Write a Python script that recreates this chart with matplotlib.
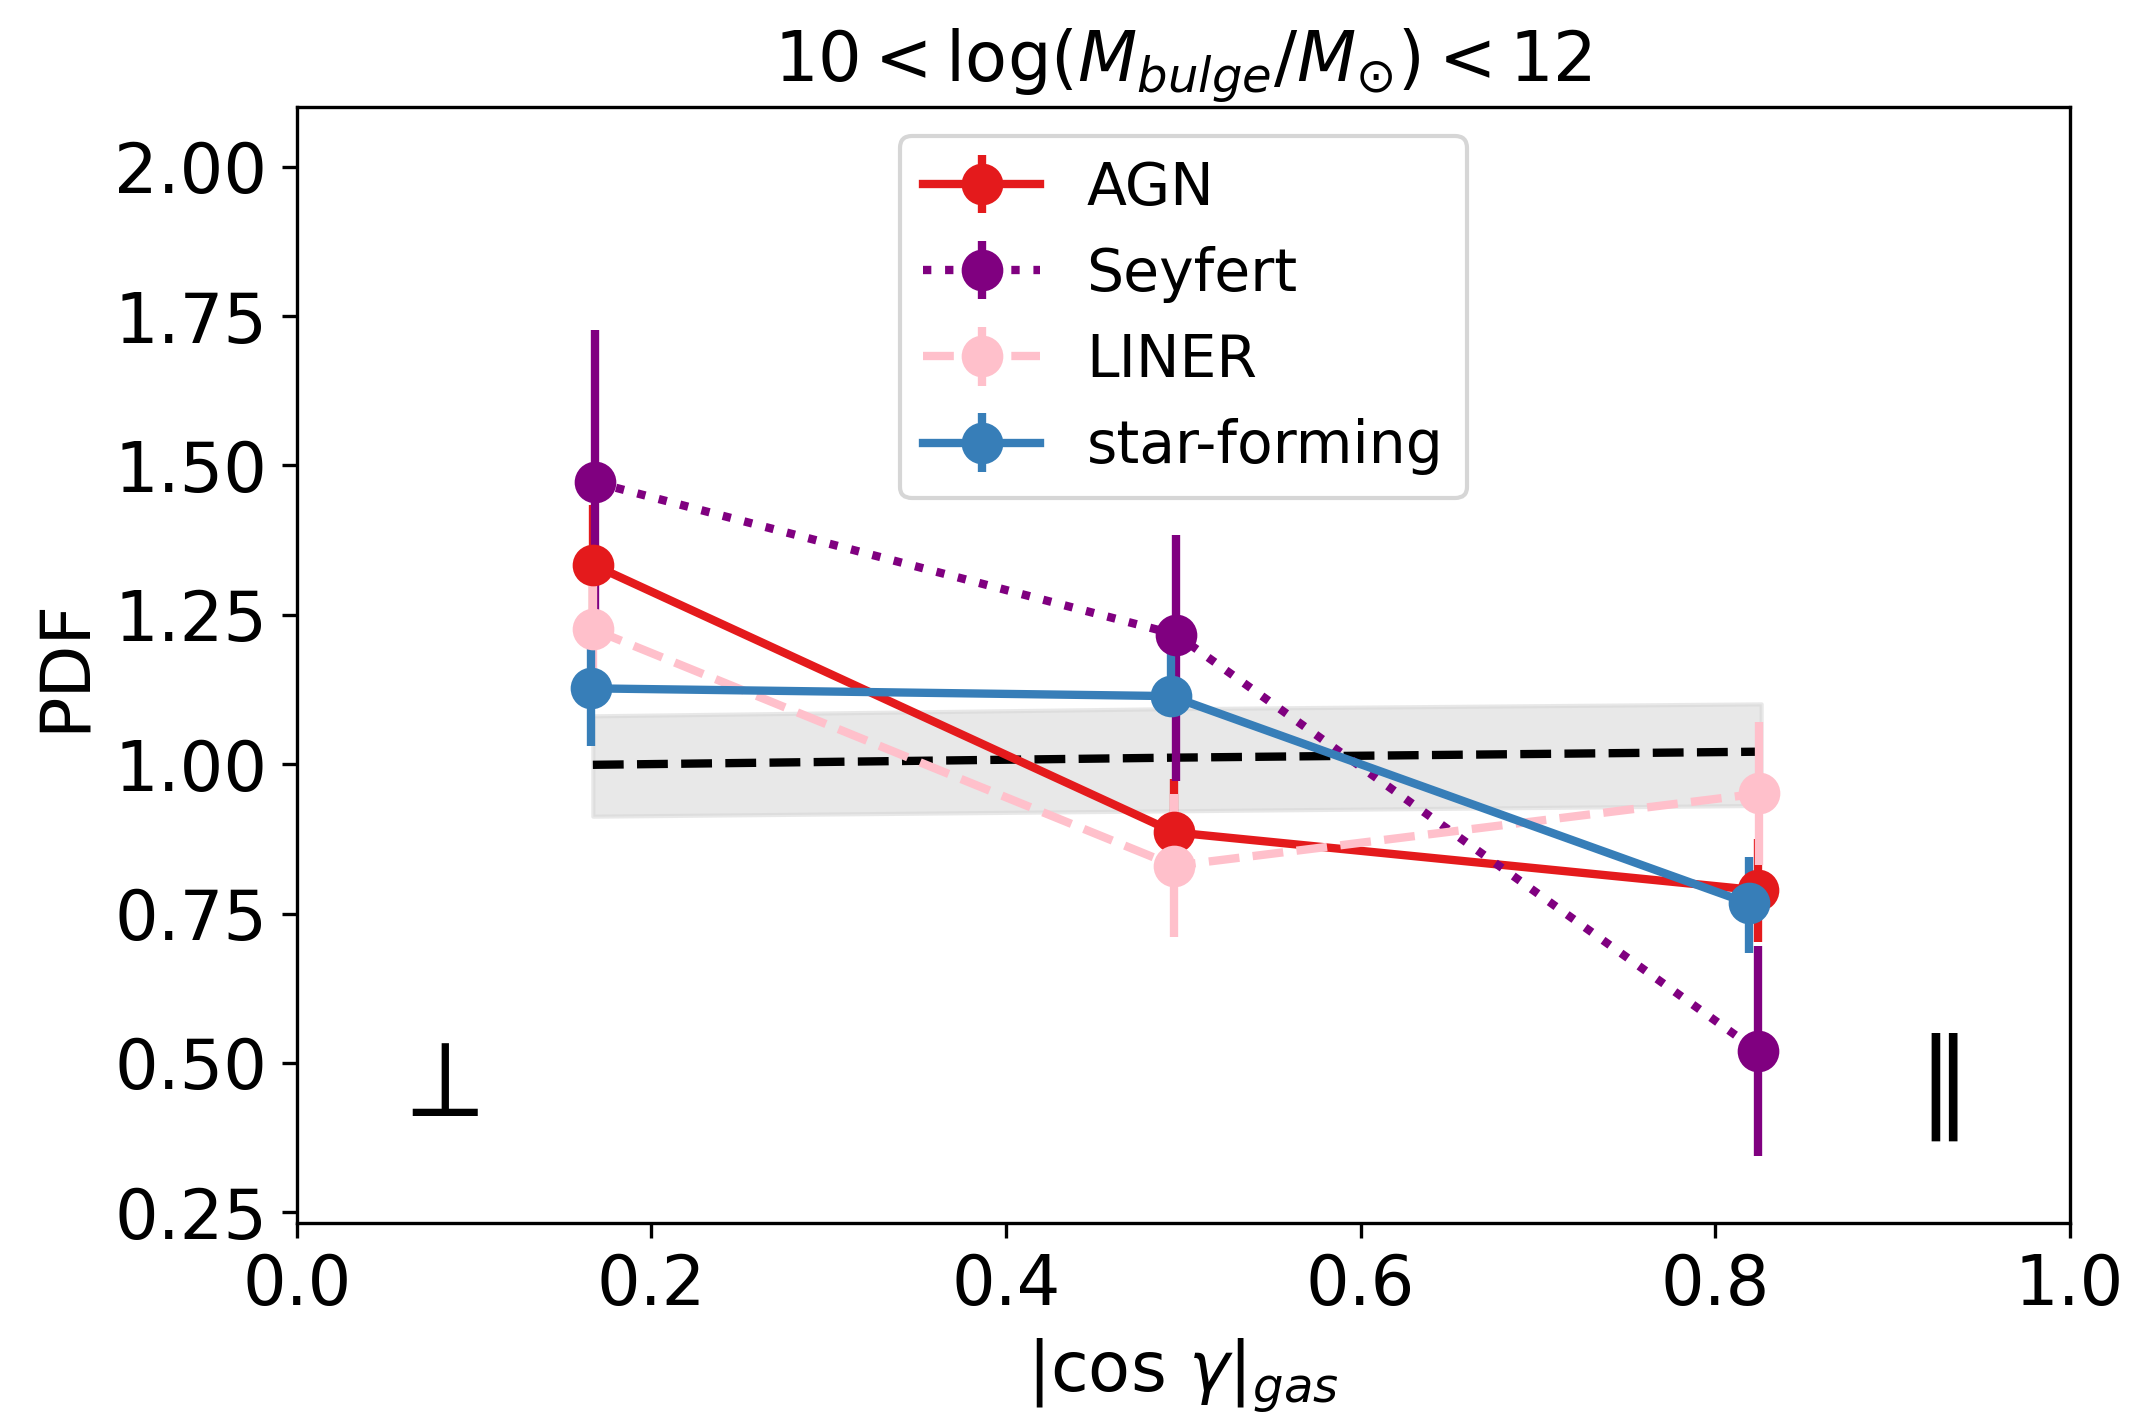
import numpy as np
import matplotlib
matplotlib.use('Agg')
import matplotlib.pyplot as plt

# ---------- data ----------
# random (null) expectation: dashed line + shaded band
x_rand = [0.167, 0.495, 0.826]
pdf_rand = [0.999, 1.011, 1.021]
pdf_rand_lo = [0.913, 0.922, 0.931]
pdf_rand_hi = [1.081, 1.093, 1.101]

x_agn = [0.167, 0.495, 0.824]
pdf_agn = [1.334, 0.886, 0.789]
err_agn = [0.10, 0.09, 0.086]

x_sey = [0.168, 0.496, 0.824]
pdf_sey = [1.472, 1.217, 0.520]
err_sey_lo = [0.255, 0.245, 0.175]
err_sey_hi = [0.255, 0.166, 0.175]

x_lin = [0.167, 0.495, 0.825]
pdf_lin = [1.226, 0.830, 0.951]
err_lin = [0.09, 0.12, 0.12]

x_sf = [0.166, 0.493, 0.819]
pdf_sf = [1.127, 1.114, 0.767]
err_sf_lo = [0.096, 0.02, 0.083]
err_sf_hi = [0.08, 0.09, 0.078]

FS = 16.5

def main():
    fig = plt.figure(figsize=(2135 / 300, 1423 / 300), dpi=300)
    ax = fig.add_axes([0.139, 0.1405, 0.8304, 0.7843])

    # null expectation
    ax.fill_between(x_rand, pdf_rand_lo, pdf_rand_hi, color='lightgray', alpha=0.5)
    ax.plot(x_rand, pdf_rand, 'k--', lw=2)

    kw = dict(marker='o', ms=9, lw=2, elinewidth=2, capsize=0)
    ax.errorbar(x_agn, pdf_agn, yerr=err_agn, color='#e41a1c', ls='-', label='AGN', **kw)
    ax.errorbar(x_sey, pdf_sey, yerr=[err_sey_lo, err_sey_hi], color='purple', ls=':',
                label='Seyfert', **kw)
    ax.errorbar(x_lin, pdf_lin, yerr=err_lin, color='pink', ls='--', label='LINER', **kw)
    ax.errorbar(x_sf, pdf_sf, yerr=[err_sf_lo, err_sf_hi], color='#377eb8', ls='-',
                label='star-forming', **kw)

    # orientation markers
    ax.text(0.0765, 0.463, r'$\perp$', fontsize=26.5, ha='center', va='center')
    ax.text(0.9195, 0.46, r'$\parallel$', fontsize=26.5, ha='center', va='center')

    ax.set_xlim(0, 1)
    ax.set_ylim(0.232, 2.10)
    ax.set_yticks([0.25, 0.5, 0.75, 1.0, 1.25, 1.5, 1.75, 2.0])
    ax.tick_params(labelsize=FS)
    ax.set_xlabel(r'$|\cos\,\gamma|_{gas}$', fontsize=FS)
    ax.set_ylabel('PDF', fontsize=FS)
    ax.set_title(r'$10 < \log(M_{bulge}/M_{\odot}) < 12$', fontsize=FS)
    ax.legend(loc='upper center', fontsize=14)

    fig.savefig('out.png', dpi=300)
    plt.close(fig)

if __name__ == '__main__':
    main()
